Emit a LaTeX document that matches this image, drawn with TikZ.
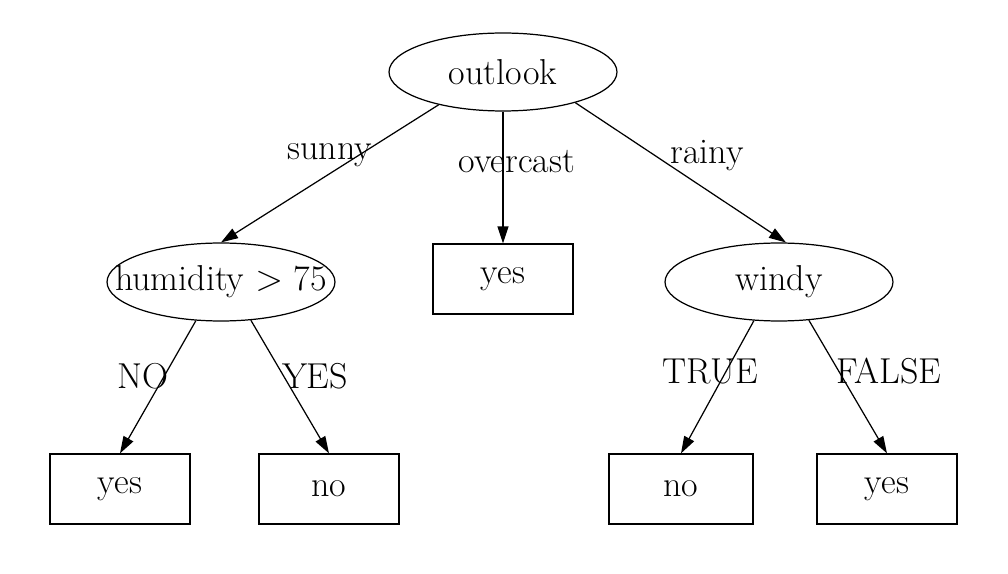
\documentclass[tikz,border=0pt]{standalone}
\usetikzlibrary{shapes.geometric,arrows.meta}

\begin{document}
\begin{tikzpicture}[x=0.02cm,y=-0.02cm,
    every node/.style={font=\fontsize{20.5}{24}\selectfont},
    decision/.style={draw,ellipse,line width=0.7pt,inner sep=0pt,
                     minimum width=4.56cm,minimum height=1.56cm},
    leaf/.style={draw,rectangle,line width=0.7pt,inner sep=0pt,
                 minimum width=2.8cm,minimum height=1.4cm},
    branch/.style={line width=0.7pt,-{Triangle[length=3.4mm,width=2.2mm]}},
    lbl/.style={inner sep=0pt}]
      \useasboundingbox (0,0) rectangle (1008,574);
      % tree nodes
      \node[decision] (outlook) at (503,72) {outlook};
      \node[decision] (humid) at (221,282) {\makebox[0pt]{humidity $>$ 75}};
      \node[leaf] (overyes) at (503,279) {yes};
      \node[decision] (windy) at (779,282) {windy};
      \node[leaf] (humno) at (120,489) {yes};
      \node[leaf] (humyes) at (329,489) {no};
      \node[leaf,minimum width=2.88cm] (windtrue) at (681,489) {no};
      \node[leaf] (windfalse) at (887,489) {yes};
      % branches
      \draw[branch] (outlook.207) -- (humid.north);
      \draw[branch] (outlook.south) -- (overyes.north);
      \draw[branch] (outlook.337) -- (windy.80);
      \draw[branch] (humid.237) -- (humno.north);
      \draw[branch] (humid.308) -- (humyes.north);
      \draw[branch] (windy.237) -- (windtrue.north);
      \draw[branch] (windy.308) -- (windfalse.north);
      % branch labels
      \node[lbl] (lsunny) at (330,155) {sunny};
      \node[lbl] (lover) at (517,162) {overcast};
      \node[lbl] (lrainy) at (707,156) {rainy};
      \node[lbl] (lno) at (143,376) {NO};
      \node[lbl] (lyes) at (315,376) {YES};
      \node[lbl] (ltrue) at (710,371) {TRUE};
      \node[lbl] (lfalse) at (889,371) {FALSE};
\end{tikzpicture}
\end{document}
